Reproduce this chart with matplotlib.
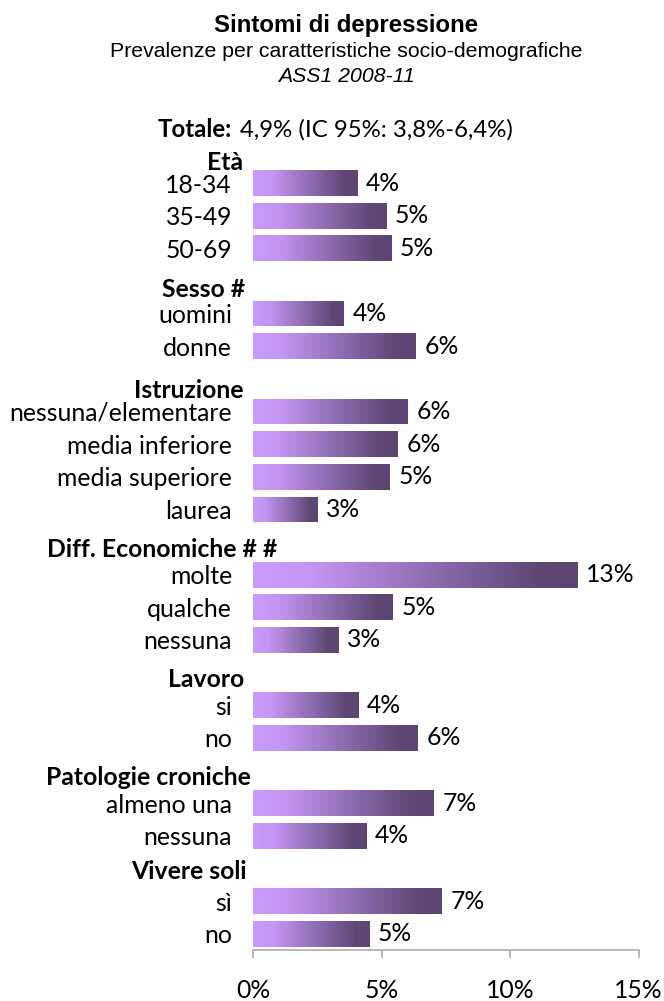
import numpy as np
import matplotlib
matplotlib.use("Agg")
import matplotlib.pyplot as plt
from matplotlib.colors import LinearSegmentedColormap

# ---- data: prevalence of depressive symptoms (%) ----
group_titles = ["Età", "Sesso #", "Istruzione", "Diff. Economiche # #",
                "Lavoro", "Patologie croniche", "Vivere soli"]

eta_labels = ["18-34", "35-49", "50-69"]
eta_values = [4.05, 5.18, 5.38]

sesso_labels = ["uomini", "donne"]
sesso_values = [3.53, 6.33]

istruzione_labels = ["nessuna/elementare", "media inferiore", "media superiore", "laurea"]
istruzione_values = [6.02, 5.63, 5.32, 2.52]

economiche_labels = ["molte", "qualche", "nessuna"]
economiche_values = [12.63, 5.44, 3.33]

lavoro_labels = ["si", "no"]
lavoro_values = [4.11, 6.41]

patologie_labels = ["almeno una", "nessuna"]
patologie_values = [7.03, 4.42]

soli_labels = ["sì", "no"]
soli_values = [7.34, 4.52]

totale = 4.9
ic_low, ic_high = 3.8, 6.4
x_ticks = [0, 5, 10, 15]

groups = [
    (eta_labels, eta_values),
    (sesso_labels, sesso_values),
    (istruzione_labels, istruzione_values),
    (economiche_labels, economiche_values),
    (lavoro_labels, lavoro_values),
    (patologie_labels, patologie_values),
    (soli_labels, soli_values),
]

# ---- layout of the group headings (slot offset, x offset in points from 0%) ----
header_dy = [-0.40, -0.50, -0.42, -0.55, -0.57, -0.56, -0.68]
header_dx = [-7.6, -6.0, -7.2, 17.1, -6.5, -1.9, -4.7]

label_font = "Lato"
title_font = "Liberation Sans"
fs = 17.8

fig = plt.figure(figsize=(6.64, 10.01), dpi=100)
ax = fig.add_axes([253.3 / 664, 51 / 1001, 385.4 / 664, 783.3 / 1001])

# slot positions: one empty slot between groups
slots, labels, values, first_slot = [], [], [], []
s = 0
for labs, vals in groups:
    first_slot.append(s)
    for lab, v in zip(labs, vals):
        slots.append(s)
        labels.append(lab)
        values.append(v)
        s += 1
    s += 1

cmap = LinearSegmentedColormap.from_list(
    "bar_grad",
    [(0.0, "#C99BFB"), (0.18, "#C495F3"), (0.88, "#5E4775"), (1.0, "#5C4572")])
grad = np.linspace(0, 1, 256).reshape(1, -1)

bars = ax.barh(slots, values, height=0.79, color="none", edgecolor="none")
for rect in bars:
    x0, y0 = rect.get_x(), rect.get_y()
    w, h = rect.get_width(), rect.get_height()
    im = ax.imshow(grad, cmap=cmap, aspect="auto",
                   extent=[x0, x0 + w, y0 + h, y0],
                   interpolation="bilinear", zorder=2)
    im.set_clip_path(rect)

ax.bar_label(bars, labels=[f"{v:.0f}%" for v in values], padding=6,
             fontsize=fs, family=label_font, color="#000000")

ax.set_xlim(0, 15)
ax.set_ylim(23.5, -0.5)

ax.set_yticks(slots)
ax.set_yticklabels(labels, fontsize=fs, family=label_font)
ax.tick_params(axis="y", length=0, pad=15.3)

ax.set_xticks(x_ticks)
ax.set_xticklabels([f"{t}%" for t in x_ticks], fontsize=fs, family=label_font)
ax.tick_params(axis="x", direction="out", length=6, width=1.1,
               color="#A6A6A6", pad=15)

for side in ("top", "right", "left"):
    ax.spines[side].set_visible(False)
ax.spines["bottom"].set_color("#A6A6A6")
ax.spines["bottom"].set_linewidth(1.1)

# group headings
for title, fs0, dy, dx in zip(group_titles, first_slot, header_dy, header_dx):
    ax.annotate(title, xy=(0, fs0 + dy), xytext=(dx, 0),
                textcoords="offset points", ha="right", va="baseline",
                fontsize=fs, fontweight="bold", family=label_font,
                annotation_clip=False)

# titles
fig.text(346.5 / 664, 1 - 32.3 / 1001, "Sintomi di depressione",
         ha="center", va="baseline", fontsize=17.3, fontweight="bold",
         family=title_font)
fig.text(346.5 / 664, 1 - 56.7 / 1001,
         "Prevalenze per caratteristiche socio-demografiche",
         ha="center", va="baseline", fontsize=15.3, family=title_font)
fig.text(346.5 / 664, 1 - 82.3 / 1001, "ASS1 2008-11",
         ha="center", va="baseline", fontsize=15.3, style="italic",
         family=title_font)

def pct(v):
    return f"{v:.1f}".replace(".", ",") + "%"

fig.text(231.7 / 664, 1 - 136.7 / 1001, "Totale:", ha="right", va="baseline",
         fontsize=17.3, fontweight="bold", family=label_font)
fig.text(240 / 664, 1 - 136.7 / 1001,
         f"{pct(totale)} (IC 95%: {pct(ic_low)}-{pct(ic_high)})",
         ha="left", va="baseline", fontsize=17.3, family=label_font)

fig.savefig("out.png", dpi=100)
